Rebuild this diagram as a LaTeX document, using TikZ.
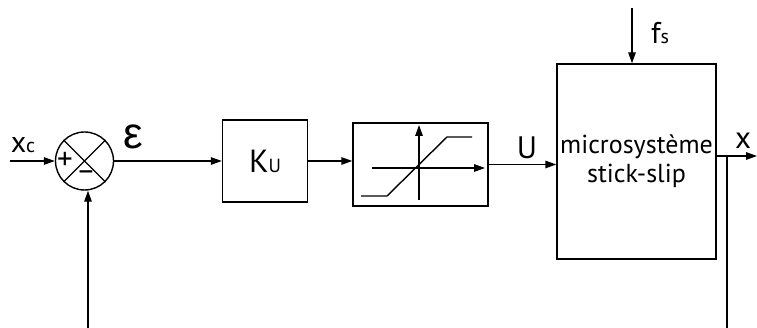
\documentclass[tikz,border=0pt]{standalone}
\usepackage{fontspec}
\setmainfont{PT Sans}
\newfontfamily\grkfont{Liberation Sans}
\usetikzlibrary{
  arrows.meta,
  positioning,
  calc
}
\newcommand{\sigsub}[2]{%
  {\fontsize{30}{30}\selectfont #1}{\fontsize{20}{20}\selectfont #2}%
}

\begin{document}
\begin{tikzpicture}[x=1pt,y=-1pt,line width=1.4pt,
  arr/.style={-{Triangle[length=11pt,width=7.5pt]}},
  blk/.style={draw,rectangle,inner sep=0pt},
  lbl/.style={inner sep=0pt,font=\fontsize{31}{31}\selectfont}]
  \useasboundingbox (0,0) rectangle (757,328);

  % blocks
  \node[draw,circle,minimum size=58pt,inner sep=0pt] (sum) at (84.5,161) {};
  \draw (sum.north west) -- (sum.south east);
  \draw (sum.north east) -- (sum.south west);
  \node[inner sep=0pt,font=\fontsize{31}{31}\selectfont] (plus) at (65,161) {+};
  \node[inner sep=0pt,font=\fontsize{30}{30}\selectfont] (minus) at (86,176) {\textendash};
  \node[blk,minimum width=85pt,minimum height=82pt] (ku) at (265,161)
    {{\fontsize{32}{32}\selectfont K}{\fontsize{19}{19}\selectfont U}};
  \node[blk,minimum width=135pt,minimum height=83pt] (sat) at (420.5,164.5) {};
  \node[blk,minimum width=159pt,minimum height=195pt,align=center,
    font=\fontsize{26}{29}\selectfont] (micro) at (636.5,161.5)
    {microsystème\\stick-slip};

  % saturation
  \draw[arr] (372,168) -- (485,168);
  \draw[arr] (419,200) -- (419,125);
  \draw (361,196) -- (387,196) -- (447,137) -- (472,137);

  % signals
  \coordinate (xin) at (10,161);
  \coordinate (fb) at (88,328);
  \coordinate (fsin) at (632,8);
  \coordinate (xout) at (757,156);
  \coordinate (br) at (727,156);
  \coordinate (brend) at (727,328);
  \draw[arr] (xin) -- (sum.west);
  \draw[arr] (sum.east) -- (ku.west);
  \draw[arr] (ku.east) -- (ku.east -| sat.west);
  \draw[arr] (sat.east) -- (sat.east -| micro.west);
  \draw[arr] (micro.east |- xout) -- (xout);
  \draw (br) -- (brend);
  \draw[arr] (fb) -- (fb |- sum.south);
  \draw[arr] (fsin) -- (fsin |- micro.north);

  % labels
  \node[inner sep=0pt] (xc) at (23,145) {\sigsub{x}{c}};
  \node[inner sep=0pt,font=\grkfont\fontsize{44}{44}\selectfont] (eps) at (133,137) {ε};
  \node[lbl] (u) at (527,148) {U};
  \node[inner sep=0pt] (fs) at (660,33) {\sigsub{f}{s}};
  \node[lbl] (x) at (743,141) {x};
\end{tikzpicture}
\end{document}
